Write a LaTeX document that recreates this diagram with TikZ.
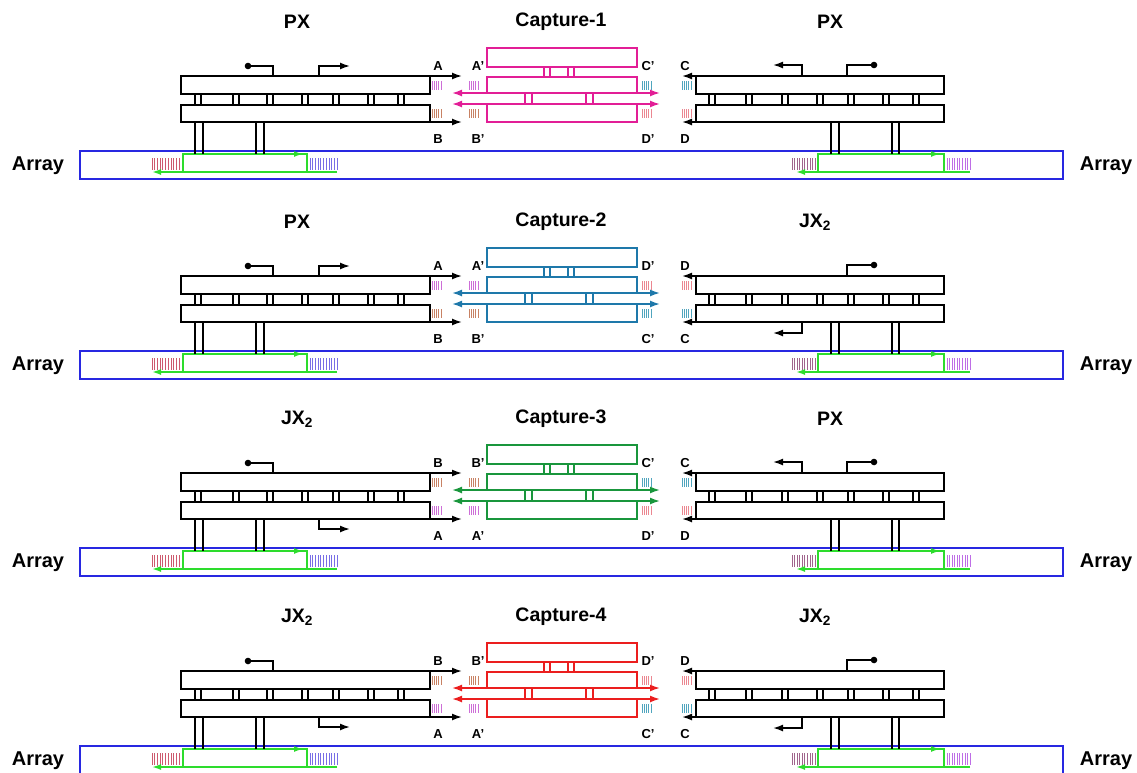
\documentclass[tikz,border=0pt]{standalone}
\usepackage{fontspec}
\setmainfont{Liberation Sans}
\usetikzlibrary{arrows.meta}
\definecolor{cmag}{RGB}{226,30,150}
\definecolor{cblu}{RGB}{30,120,170}
\definecolor{cgrn}{RGB}{25,150,60}
\definecolor{cred}{RGB}{235,30,30}
\definecolor{abox}{RGB}{40,40,225}
\definecolor{agrn}{RGB}{45,220,45}
\definecolor{hpink}{RGB}{205,110,215}
\definecolor{hbrown}{RGB}{200,130,100}
\definecolor{hteal}{RGB}{80,165,190}
\definecolor{hlpink}{RGB}{235,135,145}
\definecolor{hared}{RGB}{205,90,110}
\definecolor{habl}{RGB}{120,110,230}
\definecolor{hamv}{RGB}{160,100,140}
\definecolor{hapur}{RGB}{190,110,230}
\tikzset{
 blk/.style={draw=black,line width=1.6pt},
 arr/.style={-{Latex[length=10pt,width=7pt]}},
 darr/.style={{Latex[length=10pt,width=7pt]}-{Latex[length=10pt,width=7pt]}},
 garr/.style={-{Latex[length=9pt,width=6pt]}},
 capline/.style={draw=#1,line width=1.6pt},
 grn/.style={draw=agrn,line width=1.6pt},
 arrbox/.style={draw=abox,line width=1.6pt},
 lbl/.style={font=\bfseries\fontsize{13}{15}\selectfont,inner sep=0pt},
 ttl/.style={font=\bfseries\fontsize{19.5}{22}\selectfont,inner sep=0pt},
 albl/.style={font=\bfseries\fontsize{20}{22}\selectfont,inner sep=0pt},
 hat/.style={line width=0.8pt},
}
\newcommand\hatch[6]{\foreach \ii in {0,...,#5}{\draw[hat,#6] ({#1+\ii*(#3)/(#5)},#2) -- ++(0,#4);}}
% left block: #1 type (1=PX,0=JX), #2 top label, #3 bottom label, #4 top hatch, #5 bottom hatch
\newcommand\leftblk[5]{%
 \draw[blk] (181,76) rectangle (430,94);
 \draw[blk] (181,105) rectangle (430,122);
 \draw[blk,arr] (430,76) -- (462,76);
 \draw[blk,arr] (430,122) -- (462,122);
 \foreach \cc in {198,236,270,305,336,371,401}{\draw[blk] (\cc-3,94) -- (\cc-3,105) (\cc+3,94) -- (\cc+3,105);}
 \foreach \cc in {195,203,256,264}{\draw[blk] (\cc,122) -- (\cc,154);}
 \fill (248,66) circle (3.3);
 \draw[blk] (248,66) -| (273,76);
 \ifnum#1=1 \draw[blk,arr] (319,76) |- (350,66); \else \draw[blk,arr] (319,122) |- (350,132); \fi
 \node[lbl] (la\pid) at (438,66) {#2};
 \node[lbl] (lb\pid) at (438,139) {#3};
 \hatch{432}{81}{9}{9}{4}{#4}
 \hatch{432}{109}{9}{9}{4}{#5}
}
\newcommand\rightblk[5]{%
 \draw[blk] (696,76) rectangle (944,94);
 \draw[blk] (696,105) rectangle (944,122);
 \draw[blk,arr] (696,76) -- (682,76);
 \draw[blk,arr] (696,122) -- (682,122);
 \foreach \cc in {712,749,785,820,851,886,916}{\draw[blk] (\cc-3,94) -- (\cc-3,105) (\cc+3,94) -- (\cc+3,105);}
 \foreach \cc in {831,839,892,899}{\draw[blk] (\cc,122) -- (\cc,154);}
 \fill (874,65) circle (3.3);
 \draw[blk] (874,65) -| (847,76);
 \ifnum#1=1 \draw[blk,arr] (802,76) |- (773,65); \else \draw[blk,arr] (802,122) |- (773,133); \fi
 \node[lbl] (ra\pid) at (685,66) {#2};
 \node[lbl] (rb\pid) at (685,139) {#3};
 \hatch{682}{81}{9}{9}{4}{#4}
 \hatch{682}{109}{9}{9}{4}{#5}
}
% capture: #1 colour, #2 TL, #3 TR, #4 BL, #5 BR, #6..#9 hatches LT LB RT RB
\newcommand\captr[9]{%
 \draw[capline=#1] (487,48) rectangle (637,67);
 \draw[capline=#1] (487,77) rectangle (637,93);
 \draw[capline=#1] (487,104) rectangle (637,122);
 \draw[capline=#1,darr] (452,93) -- (660,93);
 \draw[capline=#1,darr] (452,104) -- (660,104);
 \foreach \cc in {544,550,568,574}{\draw[capline=#1] (\cc,67) -- (\cc,77);}
 \foreach \cc in {525,532,586,593}{\draw[capline=#1] (\cc,93) -- (\cc,104);}
 \node[lbl] (ca\pid) at (478,66) {#2};
 \node[lbl] (cb\pid) at (648,66) {#3};
 \node[lbl] (cc\pid) at (478,139) {#4};
 \node[lbl] (cd\pid) at (648,139) {#5};
 \hatch{469}{81}{9}{9}{4}{#6}
 \hatch{469}{109}{9}{9}{4}{#7}
 \hatch{642}{81}{9}{9}{4}{#8}
 \hatch{642}{109}{9}{9}{4}{#9}
}
\newcommand\arrayrow{%
 \draw[arrbox] (80,151) rectangle (1063,179);
 \node[albl] (arl\pid) at (38,166) {Array};
 \node[albl] (arr\pid) at (1106,166) {Array};
 \hatch{152}{158}{27}{12}{10}{hared}
 \hatch{310}{158}{27}{12}{10}{habl}
 \hatch{792}{158}{23}{12}{9}{hamv}
 \hatch{947}{158}{23}{12}{9}{hapur}
 \draw[grn] (183,154) rectangle (307,172);
 \draw[grn,garr] (183,154) -- (303,154);
 \draw[grn,garr] (337,172) -- (152,172);
 \draw[grn] (818,154) rectangle (944,172);
 \draw[grn,garr] (818,154) -- (940,154);
 \draw[grn,garr] (970,172) -- (796,172);
}
\begin{document}
\begin{tikzpicture}[x=1pt,y=-1pt]
\useasboundingbox (0,0) rectangle (1137,772);
% panel 1
\begin{scope}\def\pid{1}
 \node[ttl] (tl\pid) at (297,22) {PX};
 \node[ttl] (tc\pid) at (561,22) {Capture-1};
 \node[ttl] (tr\pid) at (830,22) {PX};
 \arrayrow
 \leftblk{1}{A}{B}{hpink}{hbrown}
 \captr{cmag}{A’}{C’}{B’}{D’}{hpink}{hbrown}{hteal}{hlpink}
 \rightblk{1}{C}{D}{hteal}{hlpink}
\end{scope}
% panel 2
\begin{scope}[yshift=-200pt]\def\pid{2}
 \node[ttl] (tl\pid) at (297,22) {PX};
 \node[ttl] (tc\pid) at (561,22) {Capture-2};
 \node[ttl] (tr\pid) at (815,22) {JX\textsubscript{2}};
 \arrayrow
 \leftblk{1}{A}{B}{hpink}{hbrown}
 \captr{cblu}{A’}{D’}{B’}{C’}{hpink}{hbrown}{hlpink}{hteal}
 \rightblk{0}{D}{C}{hlpink}{hteal}
\end{scope}
% panel 3
\begin{scope}[yshift=-397pt]\def\pid{3}
 \node[ttl] (tl\pid) at (297,22) {JX\textsubscript{2}};
 \node[ttl] (tc\pid) at (561,22) {Capture-3};
 \node[ttl] (tr\pid) at (830,22) {PX};
 \arrayrow
 \leftblk{0}{B}{A}{hbrown}{hpink}
 \captr{cgrn}{B’}{C’}{A’}{D’}{hbrown}{hpink}{hteal}{hlpink}
 \rightblk{1}{C}{D}{hteal}{hlpink}
\end{scope}
% panel 4
\begin{scope}[yshift=-595pt]\def\pid{4}
 \node[ttl] (tl\pid) at (297,22) {JX\textsubscript{2}};
 \node[ttl] (tc\pid) at (561,22) {Capture-4};
 \node[ttl] (tr\pid) at (815,22) {JX\textsubscript{2}};
 \arrayrow
 \leftblk{0}{B}{A}{hbrown}{hpink}
 \captr{cred}{B’}{D’}{A’}{C’}{hbrown}{hpink}{hlpink}{hteal}
 \rightblk{0}{D}{C}{hlpink}{hteal}
\end{scope}
\end{tikzpicture}
\end{document}
